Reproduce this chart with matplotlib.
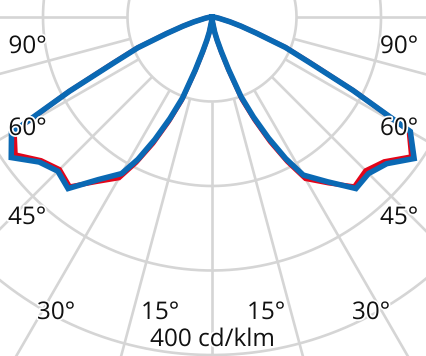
import numpy as np
import matplotlib
matplotlib.use('Agg')
import matplotlib.pyplot as plt
import matplotlib.patheffects as pe

# ---- data (cd/klm) ----
gamma = [0, 5, 10, 12.5, 15, 17.5, 20, 22.5, 25, 27.5, 30, 35, 40, 45, 50, 55, 60,
         62.5, 65, 67.5, 70, 72.5, 75, 80, 85, 90]
blue_left = [0, 5, 18, 28, 42, 66, 102, 130, 160, 190, 214, 235, 265, 258, 267, 290, 274,
             190, 128, 95, 57, 36, 22, 8, 3, 0]
blue_right = [0, 5, 18, 28, 42, 65, 100, 128, 158, 189, 216, 238, 265, 262, 270, 292, 271,
              188, 127, 94, 56, 36, 22, 8, 3, 0]
red_left = [0, 5, 19, 29, 44, 68, 105, 134, 165, 194, 220, 238, 262, 255, 264, 284, 270,
            191, 130, 96, 58, 36, 22, 8, 3, 0]
red_right = [0, 5, 19, 29, 44, 67, 104, 132, 163, 193, 221, 240, 262, 257, 266, 288, 269,
             189, 129, 95, 57, 36, 22, 8, 3, 0]

ring_values = [100, 200, 300, 400]
spoke_angles = list(range(0, 360, 15))
angle_labels = ['90°', '60°', '45°', '30°', '15°', '15°', '30°', '45°', '60°', '90°']
unit_label = '400 cd/klm'

# ---- layout (pixels) ----
W, H = 427, 356
CX, CY = 212, 17
S = 0.845  # px per cd/klm
label_pos = [(27.5, 53), (27.5, 135), (27, 224), (56, 319), (160, 319),
             (266, 319), (371, 319), (399, 224), (399, 135), (399, 53)]
unit_pos = (212.5, 346)

GRID = '#d5d5d5'
BLUE = '#0a69b4'
RED = '#e30519'

fig = plt.figure(figsize=(W / 100, H / 100), dpi=100)
ax = fig.add_axes([0, 0, 1, 1])
ax.set_xlim(-CX / S, (W - CX) / S)
ax.set_ylim(-(H - CY) / S, CY / S)
ax.axis('off')

# grid rings
th = np.linspace(0, 2 * np.pi, 1441)
for r in ring_values:
    ax.plot(r * np.sin(th), r * np.cos(th), color=GRID, lw=1.9, zorder=1,
            solid_capstyle='butt')
# spokes
r0 = ring_values[0]
for a in spoke_angles:
    t = np.deg2rad(a)
    ax.plot([r0 * np.sin(t), 1000 * np.sin(t)], [-r0 * np.cos(t), -1000 * np.cos(t)],
            color=GRID, lw=1.9, zorder=1, solid_capstyle='butt')


def curve(left, right):
    g = [-x for x in reversed(gamma)] + gamma[1:]
    i = list(reversed(left)) + right[1:]
    g = np.deg2rad(np.array(g, dtype=float))
    i = np.array(i, dtype=float)
    return i * np.sin(g), -i * np.cos(g)


xr, yr = curve(red_left, red_right)
ax.plot(xr, yr, color=RED, lw=3.4, zorder=3, solid_joinstyle='miter')
xb, yb = curve(blue_left, blue_right)
ax.plot(xb, yb, color=BLUE, lw=4.0, zorder=4, solid_joinstyle='miter')

halo = [pe.withStroke(linewidth=2.5, foreground='white')]
for txt, (px, py) in zip(angle_labels, label_pos):
    fig.text(px / W, 1 - py / H, txt, ha='center', va='baseline', fontsize=17.5,
             family='Open Sans', color='#111111', path_effects=halo, zorder=10)
fig.text(unit_pos[0] / W, 1 - unit_pos[1] / H, unit_label, ha='center', va='baseline',
         fontsize=17.5, family='Open Sans', color='#111111', path_effects=halo, zorder=10)

fig.savefig('out.png', dpi=100, facecolor='white')
